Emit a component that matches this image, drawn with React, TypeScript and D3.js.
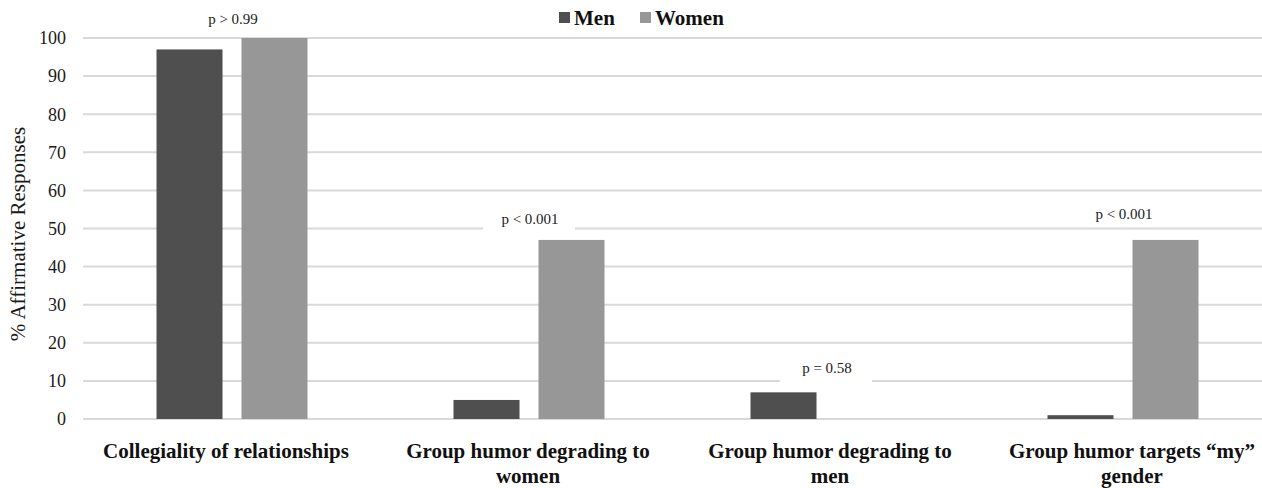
import React from "react";
import * as d3 from "d3";

const categories = [
  ["Collegiality of relationships"],
  ["Group humor degrading to", "women"],
  ["Group humor degrading to", "men"],
  ["Group humor targets \u201cmy\u201d", "gender"],
];
const seriesNames = ["Men", "Women"];
const menValues = [97, 5, 7, 1];
const womenValues = [100, 47, 0, 47];
const pLabels = ["p > 0.99", "p < 0.001", "p = 0.58", "p < 0.001"];
const pLabelValues = [105, 52.5, 13.5, 54];
const pLabelMask = [false, true, true, false];
const yTicks = [0, 10, 20, 30, 40, 50, 60, 70, 80, 90, 100];

const W = 1262;
const H = 488;
const FONT = "Liberation Serif, DejaVu Serif, serif";
const colors = ["#4f4f4f", "#979797"];

export default function App() {
  const idx = categories.map((_, i) => i);
  const x = d3.scaleBand<number>().domain(idx).range([83.5, 1271.5]);
  const xLabel = d3.scaleBand<number>().domain(idx).range([75, 1283]);
  const y = d3.scaleLinear().domain([0, 100]).range([419, 38]);
  const barW = 66;
  const gap = 19;
  const series = [menValues, womenValues];
  const txt = { fontFamily: FONT };

  return (
    <svg width={W} height={H} style={{ position: "absolute", left: 0, top: 0, background: "#fff" }}>
      <rect width={W} height={H} fill="#fff" />
      {yTicks.map((t) => (
        <g key={t}>
          <line x1={83} x2={W} y1={y(t)} y2={y(t)} stroke="#d9d9d9" strokeWidth={2} />
          <text x={66} y={y(t)} dy="0.35em" textAnchor="end" style={txt} fontSize={18} fill="#1a1a1a">
            {t}
          </text>
        </g>
      ))}
      {pLabels.map((p, i) => {
        const c = (x(i) as number) + x.bandwidth() / 2;
        const yy = y(pLabelValues[i]);
        return pLabelMask[i] ? <rect key={i} x={c - 46} y={yy - 12} width={92} height={28} fill="#fff" /> : null;
      })}
      {idx.map((i) => {
        const c = (x(i) as number) + x.bandwidth() / 2;
        return (
          <g key={i}>
            {series.map((vals, s) => {
              const bx = s === 0 ? c - gap / 2 - barW : c + gap / 2;
              return (
                <rect
                  key={s}
                  x={bx}
                  y={y(vals[i])}
                  width={barW}
                  height={y(0) - y(vals[i])}
                  fill={colors[s]}
                />
              );
            })}
          </g>
        );
      })}
      {pLabels.map((p, i) => {
        const c = (x(i) as number) + x.bandwidth() / 2;
        const yy = y(pLabelValues[i]);
        return (
          <text key={i} x={c + 1} y={yy} dy="0.35em" textAnchor="middle" style={txt} fontSize={15} fill="#1a1a1a">
            {p}
          </text>
        );
      })}
      {categories.map((lines, i) => {
        const c = (xLabel(i) as number) + xLabel.bandwidth() / 2;
        return (
          <text key={i} textAnchor="middle" style={txt} fontSize={21} fontWeight="bold" fill="#111">
            {lines.map((l, j) => (
              <tspan key={j} x={c} y={458 + j * 25}>
                {l}
              </tspan>
            ))}
          </text>
        );
      })}
      <text
        transform={`translate(25,234) rotate(-90)`}
        textAnchor="middle"
        style={txt}
        fontSize={21}
        fill="#1a1a1a"
      >
        % Affirmative Responses
      </text>
      <g style={txt} fontSize={21} fontWeight="bold" fill="#111">
        <rect x={559} y={12} width={11} height={11} fill={colors[0]} />
        <text x={574} y={25}>{seriesNames[0]}</text>
        <rect x={640} y={12} width={11} height={11} fill={colors[1]} />
        <text x={655} y={25}>{seriesNames[1]}</text>
      </g>
    </svg>
  );
}
